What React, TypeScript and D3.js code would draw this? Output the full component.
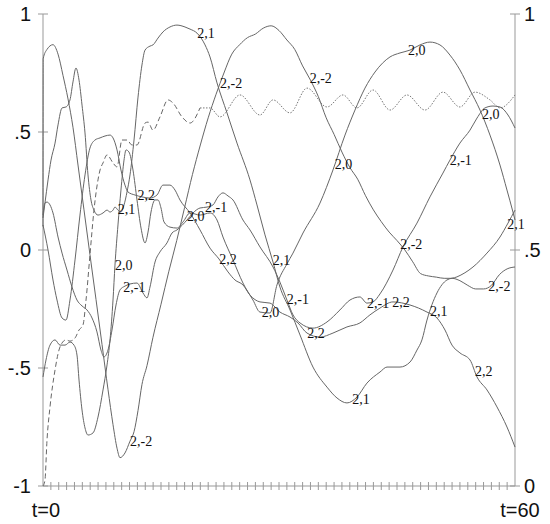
import React from "react";
import * as d3 from "d3";

type P = [number, number];

// axis tick values and labels
const leftTicks = [-1, -0.5, 0, 0.5, 1];
const leftTickLabels = ["-1", "-.5", "0", ".5", "1"];
const rightTicks = [0, 0.5, 1];
const rightTickLabels = ["0", ".5", "1"];
const timeLabels = ["t=0", "t=60"];

// series (t, value on left axis)
const s2m2: P[] = [[0,0.10],[0.02,0.81],[0.51,0.85],[1.27,0.87],[1.91,0.83],[2.54,0.74],[3.18,0.64],[3.81,0.52],[4.45,0.36],[5.21,0.17],[5.97,-0.02],[6.74,-0.21],[7.5,-0.40],[8.26,-0.59],[8.9,-0.74],[9.41,-0.84],[9.79,-0.88],[10.42,-0.86],[11.06,-0.81],[11.57,-0.77],[12.08,-0.68],[12.58,-0.57],[13.22,-0.49],[13.98,-0.37],[15,-0.23],[16,-0.09],[17,0.04],[18,0.18],[19,0.32],[20,0.445],[21,0.56],[22,0.66],[23,0.75],[24,0.83],[25,0.87],[26,0.90],[27,0.915],[28,0.94],[29,0.95],[30,0.93],[31,0.89],[32,0.85],[33,0.78],[34,0.72],[35,0.65],[36,0.56],[37,0.49],[38,0.415],[39,0.35],[40,0.30],[41,0.23],[42,0.17],[43,0.12],[44,0.076],[45,0.04],[46,0],[47,-0.05],[48,-0.10],[49,-0.11],[50,-0.115],[51,-0.12],[52,-0.12],[53,-0.13],[54,-0.15],[55,-0.165],[56,-0.165],[57,-0.15],[58,-0.105],[59,-0.08],[60,-0.072]];

const s2m1: P[] = [[0,0.148],[0.25,0.199],[0.51,0.203],[0.89,0.191],[1.27,0.157],[1.91,0.055],[2.42,-0.013],[3.05,-0.085],[3.69,-0.157],[4.32,-0.212],[4.96,-0.237],[5.59,-0.254],[6.23,-0.288],[6.86,-0.347],[7.37,-0.424],[7.75,-0.453],[8.26,-0.424],[8.77,-0.339],[9.28,-0.233],[9.79,-0.169],[10.42,-0.153],[11.06,-0.144],[11.95,-0.14],[12.71,-0.182],[13.22,-0.203],[13.6,-0.157],[14.24,-0.051],[14.87,-0.008],[15.76,0.03],[16.4,0.072],[17.03,0.085],[18.3,0.127],[19.07,0.157],[19.96,0.178],[20.85,0.182],[21.61,0.191],[22.24,0.225],[22.88,0.242],[23.52,0.229],[24.15,0.212],[25.42,0.127],[26.31,0.085],[27.58,0.013],[29.24,-0.072],[30.12,-0.136],[31.01,-0.212],[31.78,-0.275],[32.67,-0.309],[34.32,-0.331],[36.1,-0.305],[37.75,-0.254],[39.02,-0.212],[40.29,-0.199],[41.18,-0.225],[41.95,-0.22],[42.84,-0.186],[44.49,-0.085],[45.76,0.013],[47.54,0.114],[49.19,0.225],[50.84,0.326],[51.73,0.381],[53.0,0.453],[54.28,0.508],[55.17,0.559],[56.18,0.602],[57.2,0.61],[58.09,0.606],[59.11,0.572],[60,0.517]];

const s20: P[] = [[0,-0.538],[0.38,-0.466],[0.89,-0.403],[1.53,-0.381],[2.16,-0.403],[2.8,-0.403],[3.43,-0.39],[3.94,-0.403],[4.32,-0.445],[4.58,-0.551],[4.96,-0.678],[5.34,-0.754],[5.72,-0.784],[6.36,-0.775],[6.99,-0.708],[7.63,-0.593],[8.14,-0.487],[8.52,-0.381],[8.9,-0.212],[9.15,-0.064],[9.53,0.106],[9.91,0.254],[10.3,0.381],[10.55,0.424],[10.93,0.415],[11.44,0.339],[11.95,0.212],[12.46,0.093],[12.97,0.03],[13.35,0.076],[13.73,0.161],[14.24,0.212],[14.62,0.212],[15.0,0.178],[15.38,0.119],[16.14,0.097],[17.03,0.093],[17.8,0.119],[18.69,0.157],[19.96,0.148],[21.23,0.157],[22.12,0.127],[22.88,0.055],[24.15,-0.042],[25.42,-0.14],[26.69,-0.212],[27.58,-0.263],[28.85,-0.267],[29.74,-0.148],[31.01,-0.059],[31.78,-0.013],[33.05,0.072],[35.21,0.199],[36.86,0.339],[38.39,0.487],[39.66,0.593],[40.93,0.686],[42.2,0.754],[44.11,0.818],[45.38,0.835],[46.65,0.847],[47.92,0.869],[49.19,0.881],[50.46,0.869],[51.73,0.826],[53.0,0.763],[54.28,0.678],[55.55,0.593],[56.82,0.487],[58.09,0.36],[58.98,0.254],[59.74,0.161],[60,0.127]];

const s21: P[] = [[0,0.136],[0.25,0.199],[0.64,0.297],[1.02,0.381],[1.53,0.453],[1.91,0.53],[2.42,0.602],[2.92,0.606],[3.43,0.636],[3.81,0.712],[4.19,0.771],[4.58,0.72],[4.96,0.614],[5.34,0.496],[5.72,0.318],[6.1,0.212],[6.48,0.169],[6.99,0.148],[7.63,0.157],[8.14,0.169],[8.52,0.161],[8.9,0.169],[9.15,0.182],[9.53,0.169],[9.91,0.161],[10.3,0.191],[10.68,0.246],[11.06,0.318],[11.57,0.466],[12.08,0.648],[12.58,0.784],[12.97,0.847],[13.6,0.864],[13.98,0.869],[14.62,0.898],[15.25,0.924],[16.14,0.945],[17.03,0.953],[18.05,0.945],[18.69,0.936],[19.58,0.919],[20.6,0.869],[21.23,0.818],[22.12,0.708],[23.39,0.581],[24.66,0.453],[26.31,0.297],[27.2,0.191],[28.22,0.064],[29.24,-0.051],[30.12,-0.157],[31.4,-0.254],[32.67,-0.36],[34.32,-0.496],[36.1,-0.581],[37.37,-0.627],[38.64,-0.648],[39.91,-0.623],[41.18,-0.564],[42.84,-0.517],[43.73,-0.496],[45.38,-0.496],[46.65,-0.475],[47.54,-0.424],[48.17,-0.381],[48.81,-0.297],[50.08,-0.182],[51.35,-0.127],[52.62,-0.114],[54.66,-0.072],[56.44,-0.013],[58.09,0.055],[59.11,0.114],[60,0.169]];

const s22: P[] = [[0,0.106],[0.64,0],[1.27,-0.127],[1.78,-0.212],[2.42,-0.288],[2.92,-0.297],[3.43,-0.212],[4.07,-0.042],[4.7,0.148],[5.34,0.318],[5.97,0.432],[6.61,0.466],[7.25,0.475],[7.88,0.483],[8.52,0.487],[8.9,0.475],[9.41,0.424],[9.91,0.339],[10.42,0.275],[10.8,0.246],[11.69,0.233],[12.58,0.225],[13.6,0.22],[14.49,0.233],[15.25,0.275],[16.14,0.275],[16.78,0.254],[17.41,0.212],[18.69,0.157],[19.96,0.085],[21.23,0.008],[22.37,-0.038],[23.52,-0.093],[24.4,-0.127],[25.42,-0.148],[26.31,-0.191],[27.58,-0.22],[28.85,-0.225],[30.12,-0.263],[31.4,-0.284],[32.41,-0.309],[33.56,-0.352],[35.21,-0.369],[36.86,-0.352],[38.64,-0.326],[40.29,-0.309],[41.56,-0.275],[42.84,-0.246],[44.49,-0.22],[46.65,-0.233],[48.81,-0.263],[50.08,-0.288],[51.1,-0.339],[51.99,-0.403],[53.0,-0.436],[54.28,-0.466],[55.17,-0.538],[56.44,-0.593],[57.71,-0.665],[58.98,-0.75],[60,-0.835]];

// total (dashed early, dotted later)
const total: P[] = [[0,-1],[0.25,-0.975],[0.51,-0.805],[0.89,-0.665],[1.53,-0.508],[2.03,-0.424],[2.42,-0.394],[2.92,-0.381],[3.43,-0.386],[4.07,-0.373],[4.58,-0.339],[5.08,-0.318],[5.47,-0.212],[5.97,-0.021],[6.48,0.169],[6.99,0.297],[7.25,0.339],[7.63,0.369],[8.14,0.403],[8.9,0.369],[9.41,0.352],[10.04,0.466],[10.68,0.466],[11.31,0.445],[11.95,0.445],[12.97,0.538],[13.35,0.542],[13.98,0.508],[14.87,0.564],[15.89,0.636],[16.52,0.623],[17.67,0.564],[18.69,0.538],[19.96,0.602],[21.23,0.602],[22.5,0.564],[25.04,0.657],[27.58,0.572],[29.24,0.636],[31.4,0.581],[33.56,0.686],[36.1,0.606],[38.13,0.657],[39.91,0.602],[41.95,0.678],[44.11,0.593],[46.27,0.657],[48.56,0.593],[50.84,0.669],[53.0,0.606],[54.91,0.669],[56.82,0.636],[58.09,0.602],[60,0.657]];
const dashEnd = 19.96;

const names = ["2,-2", "2,-1", "2,0", "2,1", "2,2"];
const labelTimes = [
  [11.06, 22.5, 33.9, 45.4, 56.6],
  [10.2, 20.6, 31, 41.2, 51.7],
  [9.15, 18.3, 27.8, 37.1, 46.4, 55.8],
  [9.5, 19.6, 29.2, 39.3, 49.2, 59],
  [12, 22.4, 33.6, 44.4, 54.9],
];
const seriesData = [s2m2, s2m1, s20, s21, s22];

function valueAt(data: P[], t: number): number {
  for (let i = 1; i < data.length; i++) {
    if (data[i][0] >= t) {
      const [t0, v0] = data[i - 1];
      const [t1, v1] = data[i];
      return v0 + ((v1 - v0) * (t - t0)) / (t1 - t0 || 1);
    }
  }
  return data[data.length - 1][1];
}

export default function App() {
  const W = 550, H = 524;
  const x = d3.scaleLinear().domain([0, 60]).range([43, 515]);
  const y = d3.scaleLinear().domain([-1, 1]).range([486, 14]);
  const yR = d3.scaleLinear().domain([0, 1]).range([486, 14]);
  const line = d3
    .line<P>()
    .x((d) => x(d[0]))
    .y((d) => y(d[1]))
    .curve(d3.curveMonotoneX);

  const dashed = total.filter((d) => d[0] <= dashEnd);
  const dotted = total.filter((d) => d[0] >= dashEnd);
  const xTicks = d3.range(1, 60);
  const axisColor = "#999";
  const curveColor = "#666";
  const sans = "'Liberation Sans', Arial, Helvetica, sans-serif";
  const serif = "'Liberation Serif', 'Times New Roman', serif";

  return (
    <svg width={W} height={H} style={{ position: "absolute", left: 0, top: 0, background: "#fff" }}>
      {/* axes */}
      <line x1={x(0)} x2={x(0)} y1={y(1)} y2={y(-1)} stroke={axisColor} strokeWidth={1} />
      <line x1={x(60)} x2={x(60)} y1={yR(1)} y2={yR(0)} stroke={axisColor} strokeWidth={1} />
      <line x1={x(0)} x2={x(60)} y1={y(-1)} y2={y(-1)} stroke={axisColor} strokeWidth={1} />
      {leftTicks.map((v, i) => (
        <g key={"l" + i}>
          <line x1={x(0) - 5} x2={x(0) + 5} y1={y(v)} y2={y(v)} stroke={axisColor} />
          <text x={31} y={y(v)} dominantBaseline="central" textAnchor="end" fontFamily={sans} fontSize={20} fill="#111">
            {leftTickLabels[i]}
          </text>
        </g>
      ))}
      {rightTicks.map((v, i) => (
        <g key={"r" + i}>
          <line x1={x(60) - 5} x2={x(60) + 5} y1={yR(v)} y2={yR(v)} stroke={axisColor} />
          <text x={524} y={yR(v)} dominantBaseline="central" textAnchor="start" fontFamily={sans} fontSize={20} fill="#111">
            {rightTickLabels[i]}
          </text>
        </g>
      ))}
      {xTicks.map((t) => (
        <line key={"x" + t} x1={x(t)} x2={x(t)} y1={y(-1) - 4} y2={y(-1) + 4} stroke={axisColor} />
      ))}
      <text x={x(0) + 3} y={517} textAnchor="middle" fontFamily={sans} fontSize={20} fill="#111">
        {timeLabels[0]}
      </text>
      <text x={x(60) + 5} y={517} textAnchor="middle" fontFamily={sans} fontSize={20} fill="#111">
        {timeLabels[1]}
      </text>

      {/* total */}
      <path d={line(dashed) || ""} fill="none" stroke={curveColor} strokeWidth={1} strokeDasharray="5,3" />
      <path d={line(dotted) || ""} fill="none" stroke="#777" strokeWidth={1} strokeDasharray="1.5,1.5" />

      {/* components */}
      {seriesData.map((data, i) => (
        <path key={"s" + i} d={line(data) || ""} fill="none" stroke={curveColor} strokeWidth={1} />
      ))}
      {seriesData.map((data, i) =>
        labelTimes[i].map((t, j) => (
          <text
            key={"lab" + i + "_" + j}
            x={x(t)}
            y={y(valueAt(data, t))}
            dominantBaseline="central"
            fontFamily={serif}
            fontSize={14}
            fill="#111"
          >
            {names[i]}
          </text>
        ))
      )}
    </svg>
  );
}
